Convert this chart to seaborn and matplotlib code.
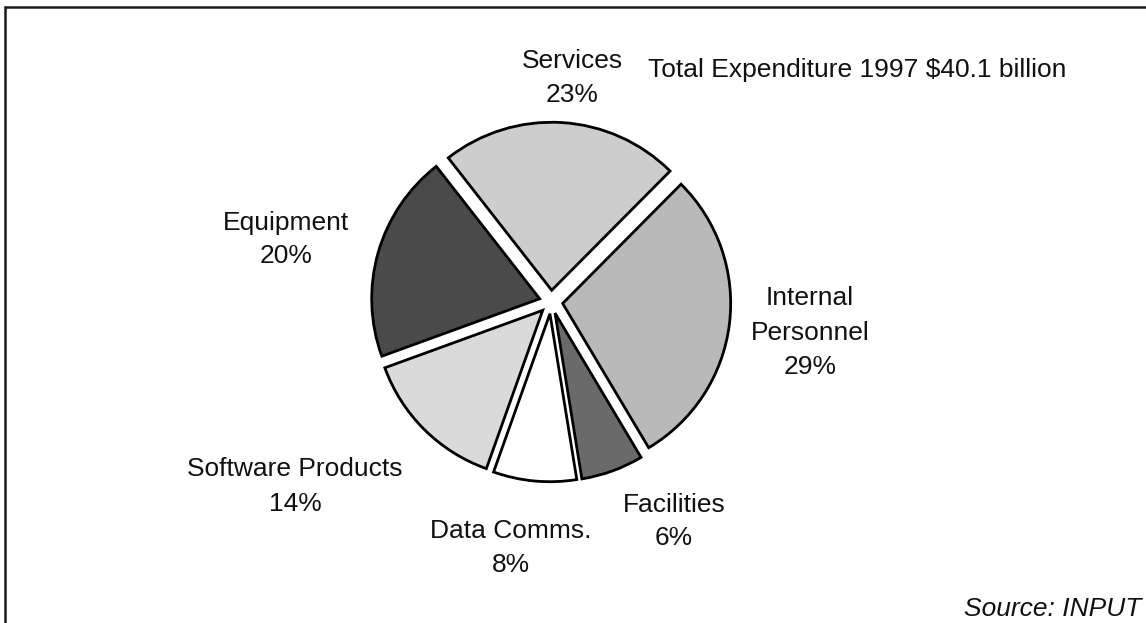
import matplotlib
matplotlib.use("Agg")
import matplotlib.pyplot as plt
from matplotlib.lines import Line2D
import seaborn as sns

# Information systems expenditure breakdown, 1997
categories = ["Services", "Internal Personnel", "Facilities",
              "Data Comms.", "Software Products", "Equipment"]
shares = [23, 29, 6, 8, 14, 20]
label_lines = [["Services", "23%"],
               ["Internal", "Personnel", "29%"],
               ["Facilities", "6%"],
               ["Data Comms.", "8%"],
               ["Software Products", "14%"],
               ["Equipment", "20%"]]
total_note = "Total Expenditure 1997 $40.1 billion"
source_note = "Source: INPUT"

sns.set_theme(style="white")
plt.rcParams["font.family"] = ["Liberation Sans", "DejaVu Sans"]

W, H = 1146, 623
fig = plt.figure(figsize=(W / 100, H / 100), dpi=100)
fig.patch.set_facecolor("white")

# pie placed so its centre sits at (551, 302) px with a 168 px radius
cx, cy, r_px, half = 551, 302, 168, 210
ax = fig.add_axes([(cx - half) / W, 1 - (cy + half) / H,
                   2 * half / W, 2 * half / H])
fills = ["#cdcdcd", "#b9b9b9", "#6a6a6a", "#ffffff", "#dadada", "#4a4a4a"]
ax.pie(shares, colors=fills, startangle=128, counterclock=False,
       explode=[0.07] * len(shares), radius=1.0,
       wedgeprops=dict(edgecolor="black", linewidth=2.0))
lim = half / r_px
ax.set_xlim(-lim, lim)
ax.set_ylim(-lim, lim)
ax.set_aspect("equal")
ax.axis("off")

fs = 19


def put(x, y, s, **kw):
    fig.text(x / W, 1 - y / H, s, fontsize=fs, color="#111111",
             va="baseline", **kw)


# label positions (centre x, first baseline y, line step) in pixels
label_pos = [(572, 68, 34), (810, 305, 34.5), (674, 512, 33),
             (511, 538, 34), (295, 476, 35), (286, 230, 33)]
for lines, (lx, ly, step) in zip(label_lines, label_pos):
    for i, line in enumerate(lines):
        put(lx, ly + i * step, line, ha="center")

put(648, 77, total_note, ha="left")
put(1141, 616, source_note, ha="right", style="italic")

# border frame: top and left rules
fig.add_artist(Line2D([5 / W, 1.0], [1 - 7 / H, 1 - 7 / H],
                      transform=fig.transFigure, color="#1a1a1a", lw=1.8))
fig.add_artist(Line2D([5 / W, 5 / W], [1 - 7 / H, 0.0],
                      transform=fig.transFigure, color="#1a1a1a", lw=1.8))

fig.savefig("out.png", dpi=100, facecolor="white")
